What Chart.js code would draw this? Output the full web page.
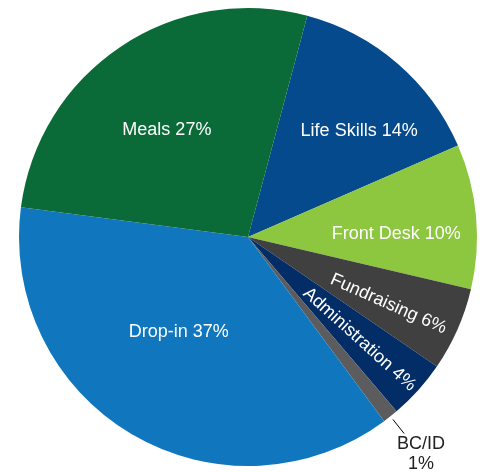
<!DOCTYPE html>
<html>
<head>
<meta charset="utf-8">
<script src="https://cdn.jsdelivr.net/npm/chart.js@4"></script>
<style>
  html, body { margin: 0; padding: 0; background: #fff; }
</style>
</head>
<body>
<canvas id="pieChart" width="484" height="472"></canvas>
<script>
var categories = ["Life Skills", "Front Desk", "Fundraising", "Administration", "BC/ID", "Drop-in", "Meals"];
var shares = [14.3, 10.2, 5.9, 4.2, 1.1, 37.2, 27.1];
var colors = ["#054a8c", "#8dc63f", "#404040", "#032d66", "#5c5c5e", "#1077bf", "#0a6b38"];

// per slice label placement: fraction of radius, small nudge, rotate along radius or not
var labelRadius = [0.67, 0.65, 0.67, 0.655, 0, 0.51, 0.59];
var labelShift = [[11, 10], [0, 10], [0, 5], [0, 2], [0, 0], [-10, -6], [-6, 5]];
var labelRotate = [false, false, true, true, false, false, false];

var sliceLabels = {
    id: "sliceLabels",
    afterDatasetsDraw: function(chart) {
        var ctx = chart.ctx;
        var arcs = chart.getDatasetMeta(0).data;
        ctx.save();
        ctx.font = "18px 'Liberation Sans', Arial, sans-serif";
        ctx.textAlign = "center";
        ctx.textBaseline = "middle";
        arcs.forEach(function(arc, i) {
            var p = arc.getProps(["x", "y", "startAngle", "endAngle", "outerRadius"], true);
            var mid = (p.startAngle + p.endAngle) / 2;
            var pct = Math.round(shares[i]) + "%";
            if (categories[i] === "BC/ID") {
                // outside label with a short leader line
                var r0 = p.outerRadius + 4, r1 = p.outerRadius + 22;
                var ex = p.x + Math.cos(mid) * r1, ey = p.y + Math.sin(mid) * r1;
                ctx.strokeStyle = "#000";
                ctx.lineWidth = 1;
                ctx.beginPath();
                ctx.moveTo(p.x + Math.cos(mid) * r0, p.y + Math.sin(mid) * r0);
                ctx.lineTo(ex, ey);
                ctx.stroke();
                ctx.fillStyle = "#222";
                ctx.fillText(categories[i], ex + 17, ey + 10);
                ctx.fillText(pct, ex + 17, ey + 30);
                return;
            }
            var r = p.outerRadius * labelRadius[i];
            var x = p.x + Math.cos(mid) * r + labelShift[i][0];
            var y = p.y + Math.sin(mid) * r + labelShift[i][1];
            ctx.fillStyle = "#fff";
            ctx.save();
            ctx.translate(x, y);
            if (labelRotate[i]) ctx.rotate(mid);
            ctx.fillText(categories[i] + " " + pct, 0, 0);
            ctx.restore();
        });
        ctx.restore();
    }
};

var pieChart = new Chart(document.getElementById("pieChart"), {
    type: "pie",
    data: {
        labels: categories,
        datasets: [{
            data: shares,
            backgroundColor: colors,
            borderWidth: 0
        }]
    },
    options: {
        responsive: false,
        animation: false,
        rotation: 15,
        layout: { padding: { left: 19, right: 7, top: 8, bottom: 6 } },
        plugins: {
            legend: { display: false },
            tooltip: { enabled: false }
        }
    },
    plugins: [sliceLabels]
});
</script>
</body>
</html>
